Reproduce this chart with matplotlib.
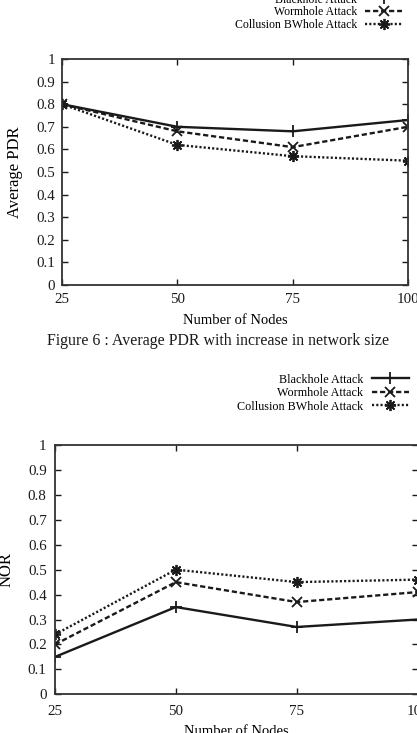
import matplotlib
matplotlib.use('Agg')
import matplotlib.pyplot as plt

plt.rcParams['font.family'] = ['Liberation Serif', 'DejaVu Serif']

# data
nodes = [25, 50, 75, 100]
pdr_blackhole = [0.80, 0.70, 0.68, 0.73]
pdr_wormhole = [0.80, 0.68, 0.61, 0.70]
pdr_collusion = [0.80, 0.62, 0.57, 0.55]
nor_blackhole = [0.15, 0.35, 0.27, 0.30]
nor_wormhole = [0.20, 0.45, 0.37, 0.41]
nor_collusion = [0.24, 0.50, 0.45, 0.46]
labels = ['Blackhole Attack', 'Wormhole Attack', 'Collusion BWhole Attack']
yticks = [0, 0.1, 0.2, 0.3, 0.4, 0.5, 0.6, 0.7, 0.8, 0.9, 1]
ytick_labels = ['0', '0.1', '0.2', '0.3', '0.4', '0.5', '0.6', '0.7', '0.8', '0.9', '1']

W, H = 417, 733
fig = plt.figure(figsize=(W / 100, H / 100), dpi=100)

ink = '#1a1a1a'
asterisk = (8, 2, 0)
styles = [
    dict(ls='-', marker='+', lw=1.7, ms=8, mew=1.3),
    dict(ls=(0, (2.2, 1.2)), marker='x', lw=1.7, ms=7, mew=1.3),
    dict(ls=(0, (0.9, 0.9)), marker=asterisk, lw=1.7, ms=8, mew=1.3),
]


def px_axes(left, top, right, bottom):
    return fig.add_axes([left / W, 1 - bottom / H, (right - left) / W, (bottom - top) / H])


def setup(ax, series, ylabel, xpad, ypad):
    for vals, lab, st in zip(series, labels, styles):
        ax.plot(nodes, vals, color=ink, label=lab, **st)
    ax.set_xlim(25, 100)
    ax.set_ylim(0, 1)
    ax.set_xticks(nodes)
    ax.set_yticks(yticks)
    ax.set_yticklabels(ytick_labels)
    ax.tick_params(direction='in', length=4, width=1, top=True, right=True,
                   labelsize=10.8, colors=ink)
    ax.tick_params(axis='x', pad=xpad)
    ax.tick_params(axis='y', pad=ypad)
    for s in ax.spines.values():
        s.set_color('#333333')
        s.set_linewidth(1.3)
    ax.set_ylabel(ylabel, fontsize=12, va='center')
    ax.set_xlabel('Number of Nodes', fontsize=10.5, va='center')


# top chart: average PDR
ax1 = px_axes(62, 59, 408, 285)
setup(ax1, [pdr_blackhole, pdr_wormhole, pdr_collusion], 'Average PDR', 5.5, 5)
ax1.yaxis.set_label_coords(-0.135, 0.5)
ax1.xaxis.set_label_coords(0.5, -0.158)
ax1.legend(loc='upper right', bbox_to_anchor=(402 / W, 1 + 6.5 / H),
           bbox_transform=fig.transFigure, frameon=False, markerfirst=False,
           fontsize=8.5, handlelength=3.1, handletextpad=0.7,
           labelspacing=0.05, borderpad=0, borderaxespad=0)

fig.text(218.5 / W, 1 - 340.7 / H,
         'Figure 6 : Average PDR with increase in network size',
         ha='center', va='center', fontsize=11.4, color=ink)

# bottom chart: NOR
ax2 = px_axes(55, 445, 417.5, 694.3)
setup(ax2, [nor_blackhole, nor_wormhole, nor_collusion], 'NOR', 7.5, 6)
ax2.yaxis.set_label_coords(-0.135, 0.5)
ax2.xaxis.set_label_coords(0.5, -0.150)
ax2.legend(loc='upper right', bbox_to_anchor=(409 / W, 1 - 373.7 / H),
           bbox_transform=fig.transFigure, frameon=False, markerfirst=False,
           fontsize=8.7, handlelength=3.1, handletextpad=0.7,
           labelspacing=0.12, borderpad=0, borderaxespad=0)

fig.savefig('out.png', dpi=100)
